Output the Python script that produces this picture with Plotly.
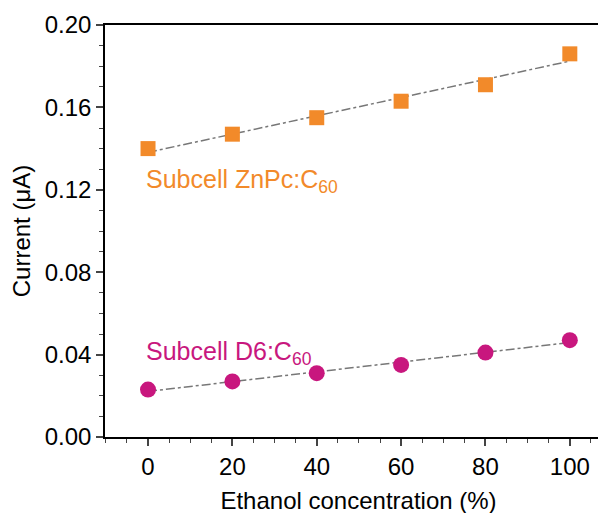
import numpy as np
import plotly.graph_objects as go

ethanol = [0, 20, 40, 60, 80, 100]
znpc_current = [0.140, 0.147, 0.155, 0.163, 0.171, 0.186]
d6_current = [0.023, 0.027, 0.031, 0.035, 0.041, 0.047]

orange = "#F28A2A"
magenta = "#C8177E"

fig = go.Figure()

for ys in (znpc_current, d6_current):
    k, b = np.polyfit(ethanol, ys, 1)
    fx = np.array([0, 100])
    fig.add_trace(go.Scatter(x=fx, y=k * fx + b, mode="lines",
                             line=dict(color="#777777", width=1.5, dash="dashdot"),
                             showlegend=False))

fig.add_trace(go.Scatter(x=ethanol, y=znpc_current, mode="markers",
                         marker=dict(symbol="square", size=15, color=orange),
                         showlegend=False))
fig.add_trace(go.Scatter(x=ethanol, y=d6_current, mode="markers",
                         marker=dict(symbol="circle", size=16, color=magenta),
                         showlegend=False))

fig.add_annotation(x=-1, y=0.1245, xanchor="left", showarrow=False,
                   text="Subcell ZnPc:C<sub>60</sub>",
                   font=dict(size=25, color=orange))
fig.add_annotation(x=-1, y=0.041, xanchor="left", showarrow=False,
                   text="Subcell D6:C<sub>60</sub>",
                   font=dict(size=25, color=magenta))

axis_common = dict(showline=True, linecolor="black", linewidth=1.5, mirror=True,
                   ticks="outside", ticklen=7, tickwidth=1.5, showgrid=False,
                   zeroline=False, tickfont=dict(size=24, color="black"),
                   minor=dict(ticks="outside", ticklen=4, tickwidth=1.2))

fig.update_xaxes(range=[-10.2, 110], tickvals=ethanol,
                 title=dict(text="Ethanol concentration (%)", font=dict(size=24), standoff=14),
                 **axis_common)
fig.update_yaxes(range=[0, 0.2], dtick=0.04, tickformat=".2f",
                 title=dict(text="Current (μA)", font=dict(size=24), standoff=8),
                 **axis_common)

fig.update_layout(width=606, height=513, plot_bgcolor="white", paper_bgcolor="white",
                  margin=dict(l=97, r=0, t=17, b=84, pad=0),
                  font=dict(family="Liberation Sans, Arial", color="black"))

fig.write_html("out.html")
